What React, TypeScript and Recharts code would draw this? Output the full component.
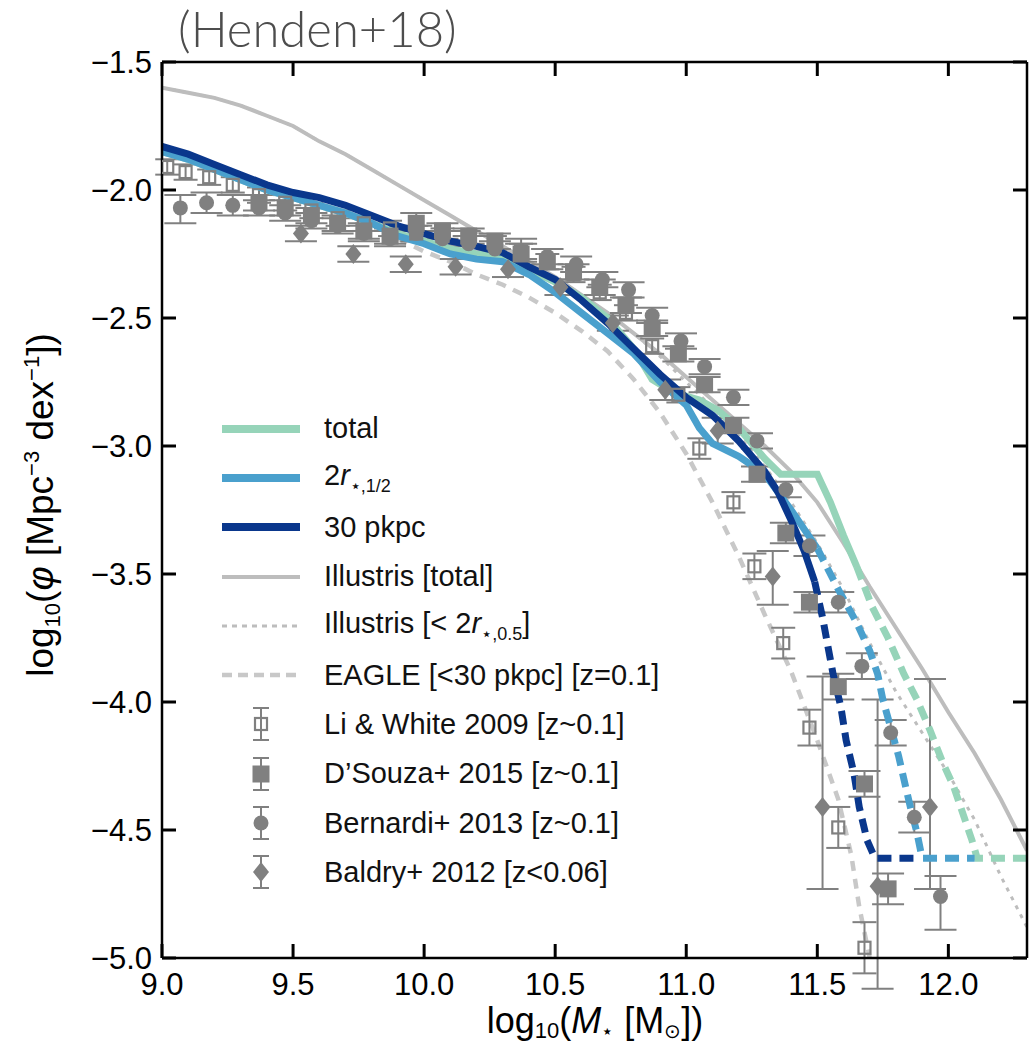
import React from 'react'
import { ComposedChart, Line, Scatter, XAxis, YAxis, ErrorBar, ReferenceLine } from 'recharts'

const xTicks = [9.0, 9.5, 10.0, 10.5, 11.0, 11.5, 12.0]
const yTicks = [-5.0, -4.5, -4.0, -3.5, -3.0, -2.5, -2.0, -1.5]

// simulation curves: [log10 M*, log10 phi]
const totalSolid = [
  [9.0, -1.85], [9.1, -1.88], [9.2, -1.92], [9.3, -1.96], [9.4, -2.0], [9.5, -2.03], [9.6, -2.06],
  [9.7, -2.09], [9.8, -2.13], [9.9, -2.17], [10.0, -2.2], [10.1, -2.23], [10.2, -2.25], [10.3, -2.26],
  [10.4, -2.31], [10.5, -2.36], [10.6, -2.42], [10.7, -2.5], [10.8, -2.62], [10.87, -2.74], [10.95, -2.79],
  [11.05, -2.82], [11.12, -2.86], [11.2, -2.93], [11.3, -3.05], [11.36, -3.11], [11.5, -3.11],
  [11.55, -3.22], [11.6, -3.35], [11.65, -3.47],
]
const totalDashed = [
  [11.65, -3.47], [11.71, -3.63], [11.77, -3.75], [11.83, -3.89], [11.88, -3.99], [11.93, -4.11],
  [11.98, -4.24], [12.02, -4.33], [12.06, -4.45], [12.09, -4.54], [12.11, -4.61], [12.3, -4.61],
]
const halfSolid = [
  [9.0, -1.85], [9.1, -1.88], [9.2, -1.92], [9.3, -1.96], [9.4, -2.0], [9.5, -2.03], [9.6, -2.06],
  [9.7, -2.09], [9.8, -2.13], [9.9, -2.18], [10.0, -2.21], [10.1, -2.25], [10.2, -2.27], [10.3, -2.28],
  [10.4, -2.33], [10.5, -2.4], [10.6, -2.48], [10.7, -2.56], [10.8, -2.64], [10.9, -2.75], [11.0, -2.84],
  [11.05, -2.93], [11.1, -2.99], [11.2, -3.04], [11.3, -3.11], [11.4, -3.25], [11.5, -3.4],
]
const halfDashed = [
  [11.5, -3.4], [11.58, -3.56], [11.65, -3.69], [11.7, -3.8], [11.73, -3.89], [11.75, -3.99],
  [11.78, -4.1], [11.81, -4.21], [11.83, -4.3], [11.855, -4.41], [11.88, -4.51], [11.9, -4.61], [12.1, -4.61],
]
const pkpcSolid = [
  [9.0, -1.83], [9.1, -1.86], [9.2, -1.9], [9.3, -1.94], [9.4, -1.98], [9.5, -2.01], [9.6, -2.03],
  [9.7, -2.06], [9.8, -2.1], [9.9, -2.14], [10.0, -2.17], [10.1, -2.2], [10.2, -2.22], [10.3, -2.245],
  [10.4, -2.3], [10.5, -2.35], [10.6, -2.43], [10.7, -2.52], [10.8, -2.62], [10.9, -2.72], [11.0, -2.81],
  [11.1, -2.88], [11.2, -2.98], [11.3, -3.1], [11.35, -3.18], [11.4, -3.29], [11.45, -3.41], [11.49, -3.53],
]
const pkpcDashed = [
  [11.49, -3.53], [11.52, -3.67], [11.56, -3.89], [11.59, -4.02], [11.61, -4.15], [11.64, -4.28],
  [11.66, -4.41], [11.69, -4.54], [11.72, -4.61], [11.89, -4.61],
]
const illustrisTotal = [
  [9.0, -1.6], [9.1, -1.62], [9.2, -1.64], [9.3, -1.67], [9.4, -1.71], [9.5, -1.75], [9.6, -1.81],
  [9.7, -1.86], [9.8, -1.92], [9.9, -1.98], [10.0, -2.04], [10.1, -2.1], [10.2, -2.16], [10.3, -2.22],
  [10.4, -2.28], [10.5, -2.34], [10.6, -2.41], [10.7, -2.48], [10.8, -2.56], [10.9, -2.64], [11.0, -2.73],
  [11.1, -2.82], [11.2, -2.91], [11.3, -3.0], [11.4, -3.1], [11.5, -3.22], [11.6, -3.38], [11.7, -3.55],
  [11.8, -3.71], [11.9, -3.87], [12.0, -4.04], [12.1, -4.2], [12.2, -4.38], [12.3, -4.58],
]
const illustrisHalf = [
  [9.0, -1.6], [9.1, -1.62], [9.2, -1.64], [9.3, -1.67], [9.4, -1.71], [9.5, -1.75], [9.6, -1.81],
  [9.7, -1.86], [9.8, -1.92], [9.9, -1.98], [10.0, -2.04], [10.1, -2.1], [10.2, -2.16], [10.3, -2.22],
  [10.4, -2.28], [10.5, -2.34], [10.6, -2.41], [10.7, -2.48], [10.8, -2.56], [10.9, -2.65], [11.0, -2.75],
  [11.1, -2.85], [11.2, -2.96], [11.3, -3.08], [11.4, -3.22], [11.5, -3.38], [11.6, -3.56], [11.7, -3.77],
  [11.8, -3.96], [11.9, -4.12], [12.0, -4.28], [12.1, -4.46], [12.2, -4.68], [12.3, -4.88],
]
const eagle = [
  [9.9, -2.19], [10.0, -2.24], [10.1, -2.28], [10.2, -2.33], [10.3, -2.37], [10.4, -2.42], [10.5, -2.48],
  [10.6, -2.55], [10.7, -2.63], [10.8, -2.74], [10.9, -2.87], [11.0, -3.03], [11.1, -3.22], [11.2, -3.43],
  [11.3, -3.66], [11.4, -3.88], [11.5, -4.15], [11.58, -4.38], [11.63, -4.6], [11.66, -4.8], [11.7, -5.0],
]

// observations: [log10 M*, log10 phi, err down, err up]
const liWhite = [
  [9.02, -1.91, 0.03, 0.03], [9.09, -1.93, 0.03, 0.03], [9.18, -1.95, 0.03, 0.03], [9.27, -1.98, 0.03, 0.03],
  [9.37, -2.02, 0.03, 0.03], [9.47, -2.05, 0.03, 0.03], [9.57, -2.08, 0.03, 0.03], [9.67, -2.11, 0.03, 0.03],
  [9.77, -2.13, 0.03, 0.03], [9.87, -2.15, 0.03, 0.03], [9.97, -2.17, 0.03, 0.03], [10.07, -2.18, 0.03, 0.03],
  [10.17, -2.19, 0.03, 0.03], [10.27, -2.21, 0.03, 0.03], [10.37, -2.24, 0.03, 0.03], [10.47, -2.28, 0.03, 0.03],
  [10.57, -2.33, 0.03, 0.03], [10.67, -2.4, 0.03, 0.03], [10.77, -2.48, 0.03, 0.03], [10.87, -2.61, 0.03, 0.03],
  [10.97, -2.8, 0.03, 0.03], [11.05, -3.01, 0.04, 0.04], [11.18, -3.22, 0.04, 0.04], [11.26, -3.47, 0.05, 0.05],
  [11.37, -3.77, 0.06, 0.06], [11.47, -4.1, 0.07, 0.07], [11.58, -4.49, 0.08, 0.08], [11.68, -4.96, 0.1, 0.1],
]
const dSouza = [
  [9.37, -2.05, 0.03, 0.03], [9.47, -2.07, 0.03, 0.03], [9.57, -2.1, 0.03, 0.03], [9.67, -2.13, 0.03, 0.03],
  [9.77, -2.16, 0.03, 0.03], [9.87, -2.18, 0.03, 0.03], [9.97, -2.13, 0.03, 0.04], [10.07, -2.16, 0.03, 0.03],
  [10.17, -2.18, 0.03, 0.03], [10.27, -2.2, 0.03, 0.03], [10.37, -2.25, 0.03, 0.06], [10.47, -2.28, 0.03, 0.05],
  [10.57, -2.32, 0.03, 0.03], [10.67, -2.38, 0.03, 0.03], [10.77, -2.45, 0.03, 0.03], [10.87, -2.54, 0.03, 0.03],
  [10.97, -2.64, 0.03, 0.03], [11.07, -2.76, 0.03, 0.03], [11.18, -2.92, 0.03, 0.03], [11.27, -3.11, 0.03, 0.03],
  [11.38, -3.34, 0.04, 0.04], [11.47, -3.61, 0.04, 0.04], [11.58, -3.94, 0.05, 0.05], [11.68, -4.32, 0.05, 0.05],
  [11.77, -4.73, 0.06, 0.06],
]
const bernardi = [
  [9.07, -2.07, 0.06, 0.05], [9.17, -2.05, 0.04, 0.04], [9.27, -2.06, 0.04, 0.04], [9.37, -2.07, 0.03, 0.03],
  [9.47, -2.09, 0.03, 0.03], [9.57, -2.12, 0.03, 0.03], [9.67, -2.14, 0.03, 0.03], [9.77, -2.17, 0.03, 0.03],
  [9.87, -2.19, 0.03, 0.03], [9.97, -2.17, 0.03, 0.03], [10.07, -2.19, 0.03, 0.03], [10.17, -2.21, 0.03, 0.03],
  [10.27, -2.23, 0.03, 0.03], [10.37, -2.24, 0.03, 0.03], [10.47, -2.26, 0.03, 0.03], [10.58, -2.29, 0.03, 0.03],
  [10.68, -2.35, 0.03, 0.03], [10.78, -2.39, 0.03, 0.03], [10.87, -2.49, 0.03, 0.03], [10.98, -2.59, 0.03, 0.03],
  [11.07, -2.69, 0.03, 0.03], [11.18, -2.81, 0.03, 0.03], [11.27, -2.98, 0.03, 0.03], [11.38, -3.17, 0.03, 0.03],
  [11.47, -3.39, 0.04, 0.04], [11.58, -3.61, 0.04, 0.04], [11.67, -3.86, 0.05, 0.05], [11.78, -4.12, 0.05, 0.05],
  [11.87, -4.45, 0.06, 0.06], [11.97, -4.76, 0.13, 0.08],
]
const baldry = [
  [9.53, -2.17, 0.03, 0.03], [9.73, -2.25, 0.03, 0.03], [9.93, -2.29, 0.03, 0.03], [10.12, -2.3, 0.03, 0.03],
  [10.32, -2.31, 0.03, 0.03], [10.52, -2.38, 0.03, 0.03], [10.72, -2.52, 0.03, 0.03], [10.92, -2.78, 0.04, 0.04],
  [11.12, -2.94, 0.05, 0.05], [11.33, -3.51, 0.11, 0.1], [11.52, -4.41, 0.32, 0.51], [11.73, -4.72, 0.4, 0.73],
  [11.93, -4.41, 0.32, 0.5],
]

const GREEN = '#96d4b9'
const BLUE = '#4aa0cd'
const NAVY = '#0a378c'
const GREY = '#808080'
const LIGHT = '#bdbdbd'
const FONT = '"Liberation Sans", Arial, sans-serif'

const X_DOMAIN = [9, 12.3]
const Y_DOMAIN = [-5, -1.5]

// plot frame in page pixels, fixed by the chart margins and axis sizes below
const PLOT_L = 162
const PLOT_R = 1027
const PLOT_T = 62
const PLOT_B = 958
const TICK = 14
const px = (v: number) => PLOT_L + ((v - X_DOMAIN[0]) / (X_DOMAIN[1] - X_DOMAIN[0])) * (PLOT_R - PLOT_L)
const py = (v: number) => PLOT_B - ((v - Y_DOMAIN[0]) / (Y_DOMAIN[1] - Y_DOMAIN[0])) * (PLOT_B - PLOT_T)

const toLine = (arr: number[][]) => arr.map(([x, y]) => ({ x, y }))
const toPts = (arr: number[][]) => arr.map(([x, y, lo, hi]) => ({ x, y, err: [lo, hi] }))

const fmt = (v: number) => (v < 0 ? '\u2212' : '') + Math.abs(v).toFixed(1)

const BottomLabel = (p: any) => (
  <text x={p.x} y={p.y + 37} textAnchor="middle" fontFamily={FONT} fontSize={31} fill="#000">
    {fmt(p.payload.value)}
  </text>
)
const LeftLabel = (p: any) => (
  <text x={p.x} y={p.y + 11} textAnchor="end" fontFamily={FONT} fontSize={31} fill="#000">
    {fmt(p.payload.value)}
  </text>
)

const OpenSquare = (p: any) => (
  <rect x={p.cx - 6} y={p.cy - 6} width={12} height={12} fill="none" stroke={GREY} strokeWidth={2.2} />
)
const FilledSquare = (p: any) => <rect x={p.cx - 8.5} y={p.cy - 8.5} width={17} height={17} fill={GREY} />
const FilledCircle = (p: any) => <circle cx={p.cx} cy={p.cy} r={7.5} fill={GREY} />
const FilledDiamond = (p: any) => (
  <polygon points={`${p.cx},${p.cy - 10} ${p.cx + 8},${p.cy} ${p.cx},${p.cy + 10} ${p.cx - 8},${p.cy}`} fill={GREY} />
)

function Handle({ kind }: { kind: string }) {
  const line = (stroke: string, w: number, dash?: string) => (
    <line x1={0} x2={78} y1={20} y2={20} stroke={stroke} strokeWidth={w} strokeDasharray={dash} />
  )
  const bar = (
    <g stroke={GREY} strokeWidth={2}>
      <line x1={39} x2={39} y1={4} y2={36} />
      <line x1={31} x2={47} y1={4} y2={4} />
      <line x1={31} x2={47} y1={36} y2={36} />
    </g>
  )
  let body: React.ReactNode = null
  if (kind === 'total') body = line(GREEN, 8)
  if (kind === 'half') body = line(BLUE, 8)
  if (kind === 'pkpc') body = line(NAVY, 8)
  if (kind === 'ill') body = line(LIGHT, 4)
  if (kind === 'illHalf') body = line(LIGHT, 3, '5 5')
  if (kind === 'eagle') body = line('#c8c8c8', 4.5, '10 6')
  if (kind === 'li') body = <>{bar}<OpenSquare cx={39} cy={20} /></>
  if (kind === 'ds') body = <>{bar}<FilledSquare cx={39} cy={20} /></>
  if (kind === 'be') body = <>{bar}<FilledCircle cx={39} cy={20} /></>
  if (kind === 'ba') body = <>{bar}<FilledDiamond cx={39} cy={20} /></>
  return (
    <svg width={80} height={40} style={{ overflow: 'visible' }}>
      {body}
    </svg>
  )
}

const sub = { fontSize: 18, verticalAlign: 'sub' as const }

const legendRows: { kind: string; label: React.ReactNode }[] = [
  { kind: 'total', label: 'total' },
  { kind: 'half', label: <>2<i>r</i><span style={sub}>⋆,1/2</span></> },
  { kind: 'pkpc', label: '30 pkpc' },
  { kind: 'ill', label: 'Illustris [total]' },
  { kind: 'illHalf', label: <>Illustris [&lt; 2<i>r</i><span style={sub}>⋆,0.5</span>]</> },
  { kind: 'eagle', label: 'EAGLE [<30 pkpc] [z=0.1]' },
  { kind: 'li', label: 'Li & White 2009 [z~0.1]' },
  { kind: 'ds', label: 'D\u2019Souza+ 2015 [z~0.1]' },
  { kind: 'be', label: 'Bernardi+ 2013 [z~0.1]' },
  { kind: 'ba', label: 'Baldry+ 2012 [z<0.06]' },
]

export default function App() {
  const frame = { stroke: '#000', strokeWidth: 2.5 }
  return (
    <div style={{ position: 'absolute', left: 0, top: 0, width: 1029, height: 1046, background: '#fff' }}>
      <ComposedChart width={1029} height={1046} margin={{ top: 62, right: 2, bottom: 0, left: 0 }}>
        <XAxis
          dataKey="x" type="number" domain={X_DOMAIN} ticks={xTicks} interval={0} allowDataOverflow
          height={88} tickSize={0} tickMargin={0} tickLine={false} axisLine={frame} tick={BottomLabel}
        />
        <YAxis
          dataKey="y" type="number" domain={Y_DOMAIN} ticks={yTicks} interval={0} allowDataOverflow
          width={162} tickSize={0} tickMargin={10} tickLine={false} axisLine={frame} tick={LeftLabel}
        />

        <Line data={toLine(illustrisTotal)} dataKey="y" stroke={LIGHT} strokeWidth={4} dot={false} isAnimationActive={false} />
        <Line data={toLine(illustrisHalf)} dataKey="y" stroke={LIGHT} strokeWidth={3} strokeDasharray="4 6" dot={false} isAnimationActive={false} />
        <Line data={toLine(eagle)} dataKey="y" stroke="#c8c8c8" strokeWidth={4.5} strokeDasharray="10 8" dot={false} isAnimationActive={false} />

        <Scatter data={toPts(liWhite)} shape={OpenSquare} isAnimationActive={false}>
          <ErrorBar dataKey="err" direction="y" width={12} stroke={GREY} strokeWidth={2} />
        </Scatter>
        <Scatter data={toPts(dSouza)} shape={FilledSquare} isAnimationActive={false}>
          <ErrorBar dataKey="err" direction="y" width={16} stroke={GREY} strokeWidth={2} />
        </Scatter>
        <Scatter data={toPts(bernardi)} shape={FilledCircle} isAnimationActive={false}>
          <ErrorBar dataKey="err" direction="y" width={16} stroke={GREY} strokeWidth={2} />
        </Scatter>
        <Scatter data={toPts(baldry)} shape={FilledDiamond} isAnimationActive={false}>
          <ErrorBar dataKey="err" direction="y" width={16} stroke={GREY} strokeWidth={2} />
        </Scatter>

        <Line data={toLine(totalSolid)} dataKey="y" stroke={GREEN} strokeWidth={7} dot={false} isAnimationActive={false} />
        <Line data={toLine(totalDashed)} dataKey="y" stroke={GREEN} strokeWidth={7} strokeDasharray="14 8" dot={false} isAnimationActive={false} />
        <Line data={toLine(halfSolid)} dataKey="y" stroke={BLUE} strokeWidth={7} dot={false} isAnimationActive={false} />
        <Line data={toLine(halfDashed)} dataKey="y" stroke={BLUE} strokeWidth={7} strokeDasharray="14 8" dot={false} isAnimationActive={false} />
        <Line data={toLine(pkpcSolid)} dataKey="y" stroke={NAVY} strokeWidth={7} dot={false} isAnimationActive={false} />
        <Line data={toLine(pkpcDashed)} dataKey="y" stroke={NAVY} strokeWidth={7} strokeDasharray="14 8" dot={false} isAnimationActive={false} />

        {/* top and right sides of the frame */}
        <ReferenceLine y={Y_DOMAIN[1]} stroke="#000" strokeWidth={2.5} ifOverflow="visible" />
        <ReferenceLine x={X_DOMAIN[1]} stroke="#000" strokeWidth={2.5} ifOverflow="visible" />
      </ComposedChart>

      <svg width={1029} height={1046} style={{ position: 'absolute', left: 0, top: 0, pointerEvents: 'none' }}>
        {/* inward ticks on all four sides */}
        <g stroke="#000" strokeWidth={3}>
          {xTicks.map((v) => (
            <g key={`x${v}`}>
              <line x1={px(v)} x2={px(v)} y1={PLOT_B} y2={PLOT_B - TICK} />
              <line x1={px(v)} x2={px(v)} y1={PLOT_T} y2={PLOT_T + TICK} />
            </g>
          ))}
          {yTicks.map((v) => (
            <g key={`y${v}`}>
              <line x1={PLOT_L} x2={PLOT_L + TICK} y1={py(v)} y2={py(v)} />
              <line x1={PLOT_R} x2={PLOT_R - TICK} y1={py(v)} y2={py(v)} />
            </g>
          ))}
        </g>
        <text x={178} y={47} fontFamily="Lato, sans-serif" fontWeight={300} fontSize={49} fill="#4d4d4d">(Henden+18)</text>
        <text transform="translate(53,505) rotate(-90)" textAnchor="middle" fontFamily={FONT} fontSize={37} fill="#000">
          log<tspan fontSize={22} dy={7}>10</tspan><tspan dy={-7}>(</tspan><tspan fontStyle="italic">φ</tspan> [Mpc
          <tspan fontSize={22} dy={-14}>−3</tspan><tspan dy={14}> dex</tspan><tspan fontSize={22} dy={-14}>−1</tspan>
          <tspan dy={14}>])</tspan>
        </text>
        <text x={595} y={1033} textAnchor="middle" fontFamily={FONT} fontSize={36} fill="#000">
          log<tspan fontSize={22} dy={5}>10</tspan><tspan dy={-5}>(</tspan><tspan fontStyle="italic">M</tspan>
          <tspan fontSize={20} dy={5}>⋆</tspan><tspan dy={-5}> [M</tspan><tspan fontSize={20} dy={5}>⊙</tspan>
          <tspan dy={-5}>])</tspan>
        </text>
      </svg>

      <div style={{ position: 'absolute', left: 222, top: 404, fontFamily: FONT, fontSize: 29, color: '#111' }}>
        {legendRows.map((r) => (
          <div key={r.kind} style={{ display: 'flex', alignItems: 'center', height: 49.3, whiteSpace: 'nowrap' }}>
            <Handle kind={r.kind} />
            <span style={{ marginLeft: 22 }}>{r.label}</span>
          </div>
        ))}
      </div>
    </div>
  )
}
